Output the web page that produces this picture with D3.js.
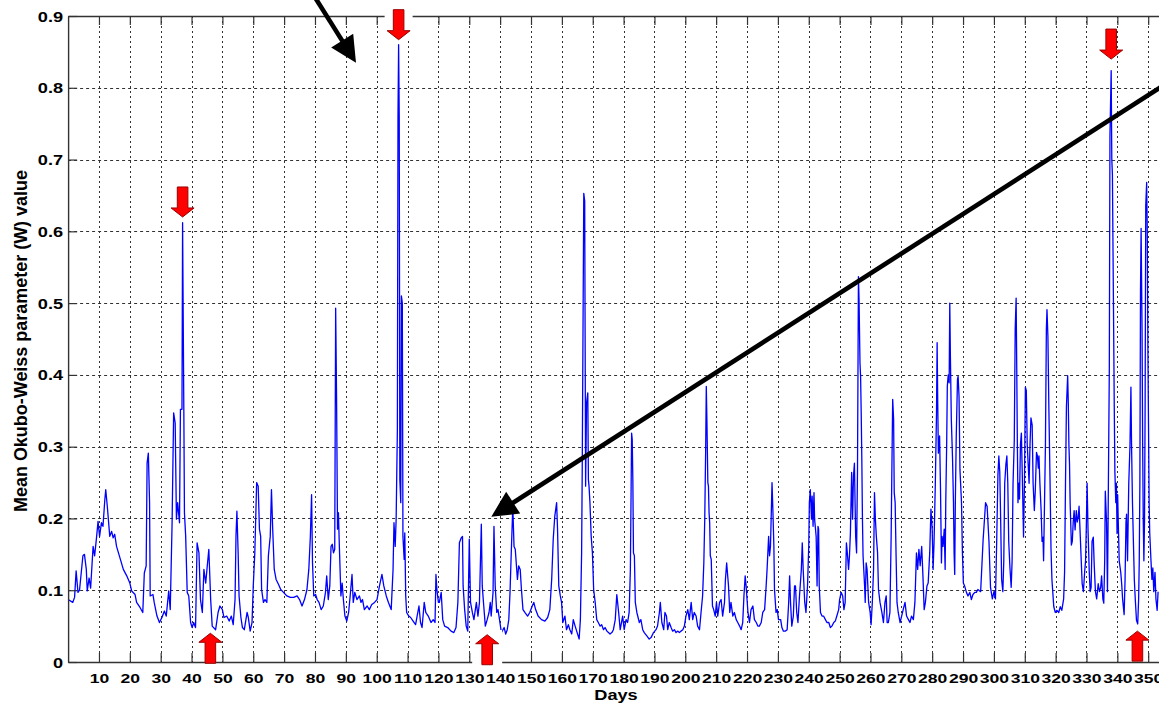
<!DOCTYPE html>
<html>
<head>
<meta charset="utf-8">
<script src="https://cdn.jsdelivr.net/npm/d3@7"></script>
<style>
  html, body { margin: 0; padding: 0; background: #fff; }
  svg { display: block; }
</style>
</head>
<body>
<svg id="chart" width="1159" height="708"></svg>
<script>
// Mean Okubo-Weiss parameter (W), sampled through the year: [day, W]
const owDays000to060 = [
  [0,0.087],[1.5,0.083],[2.1,0.090],[2.6,0.127],[3.2,0.097],[3.7,0.100],[4.8,0.148],[5.3,0.150],[5.9,0.129],[6.2,0.099],
  [6.8,0.117],[7.3,0.103],[8.1,0.161],[8.6,0.148],[9.2,0.173],[9.7,0.196],[10.2,0.175],[10.8,0.194],[11.3,0.189],[11.9,0.226],
  [12.2,0.240],[12.7,0.217],[13.5,0.175],[14.1,0.182],[14.6,0.173],[15.1,0.178],[15.7,0.161],[16.8,0.145],[17.9,0.129],[19.0,0.120],
  [20.0,0.110],[20.6,0.099],[21.7,0.094],[22.2,0.083],[23.3,0.076],[24.2,0.069],[24.7,0.124],[25.3,0.134],[25.6,0.277],[26.0,0.291],
  [26.4,0.222],[26.6,0.092],[27.5,0.094],[27.9,0.083],[28.8,0.064],[29.6,0.055],[30.4,0.062],[31.2,0.071],[31.8,0.064],[32.6,0.099],
  [33.1,0.073],[33.7,0.194],[34.2,0.347],[34.7,0.333],[35.1,0.199],[35.5,0.222],[36.1,0.194],[36.4,0.352],[36.9,0.352],[37.1,0.612],
  [37.5,0.352],[37.7,0.208],[38.1,0.175],[38.6,0.097],[39.1,0.092],[39.7,0.055],[40.2,0.048],[40.7,0.055],[41.3,0.048],[41.8,0.166],
  [42.4,0.152],[42.9,0.087],[43.5,0.069],[44.0,0.129],[44.6,0.110],[45.1,0.134],[45.6,0.157],[46.2,0.087],[46.7,0.050],[47.8,0.045],
  [48.6,0.069],[49.2,0.078],[50.0,0.073],[50.5,0.062],[51.4,0.064],[52.2,0.057],[52.9,0.064],[53.5,0.052],[54.1,0.087],[54.4,0.175],
  [54.7,0.210],[55.1,0.152],[55.4,0.092],[56.0,0.062],[56.5,0.048],[57.1,0.045],[58.0,0.069],[58.4,0.062],[59.0,0.043],[59.6,0.055]
];
const owDays060to120 = [
  [60.0,0.106],[60.5,0.152],[61.1,0.250],[61.6,0.245],[62.0,0.185],[62.4,0.175],[62.7,0.101],[63.3,0.083],[63.8,0.087],[64.4,0.083],
  [64.9,0.148],[65.5,0.175],[65.9,0.240],[66.3,0.185],[66.8,0.129],[67.4,0.115],[68.2,0.108],[68.9,0.101],[69.8,0.097],[70.9,0.092],
  [72.0,0.090],[73.1,0.090],[74.2,0.092],[75.0,0.087],[75.8,0.078],[76.6,0.087],[77.4,0.101],[78.0,0.129],[78.5,0.175],[78.9,0.233],
  [79.2,0.138],[79.6,0.092],[80.2,0.094],[80.7,0.087],[81.3,0.083],[82.0,0.073],[82.7,0.078],[83.4,0.097],[83.8,0.120],[84.3,0.087],
  [84.8,0.106],[85.2,0.161],[85.6,0.164],[86.0,0.152],[86.4,0.157],[86.7,0.493],[87.0,0.366],[87.3,0.185],[87.6,0.208],[87.9,0.161],
  [88.4,0.092],[88.8,0.110],[89.2,0.087],[89.7,0.064],[90.3,0.057],[90.9,0.069],[91.4,0.092],[92.0,0.122],[92.4,0.083],[92.9,0.097],
  [93.6,0.087],[94.4,0.092],[94.9,0.083],[95.4,0.087],[96.0,0.073],[96.9,0.078],[97.6,0.073],[98.4,0.080],[99.3,0.083],[100.1,0.087],
  [100.9,0.106],[101.7,0.122],[102.3,0.106],[103.1,0.092],[103.8,0.083],[104.7,0.073],[105.3,0.129],[105.6,0.194],[106.0,0.161],[106.3,0.199],
  [106.7,0.324],[106.9,0.760],[107.1,0.860],[107.3,0.760],[107.5,0.254],[107.8,0.222],[108.0,0.510],[108.3,0.500],[108.5,0.175],[108.9,0.143],
  [109.1,0.180],[109.4,0.092],[109.7,0.069],[110.4,0.064],[111.0,0.062],[111.8,0.057],[112.6,0.052],[113.1,0.064],[113.7,0.078],[114.2,0.055],
  [114.7,0.048],[115.4,0.083],[115.9,0.069],[116.7,0.064],[117.6,0.055],[118.3,0.059],[118.9,0.055],[119.2,0.122],[119.5,0.101],[120.0,0.083]
];
const owDays120to180 = [
  [120.3,0.083],[120.9,0.097],[121.4,0.059],[122.0,0.050],[123.0,0.048],[124.1,0.043],[125.0,0.041],[125.7,0.048],[126.3,0.083],[126.8,0.166],
  [127.4,0.173],[127.8,0.175],[128.0,0.106],[128.5,0.073],[129.0,0.050],[129.5,0.043],[130.0,0.171],[130.4,0.083],[131.0,0.069],[131.5,0.059],
  [132.3,0.083],[132.8,0.064],[133.3,0.083],[133.9,0.192],[134.2,0.106],[134.6,0.083],[135.2,0.050],[135.8,0.059],[136.4,0.069],[136.8,0.083],
  [137.1,0.064],[137.7,0.097],[138.0,0.189],[138.4,0.106],[138.9,0.069],[139.3,0.073],[139.8,0.059],[140.4,0.041],[141.3,0.048],[141.8,0.039],
  [142.3,0.045],[142.8,0.059],[143.2,0.097],[143.6,0.152],[144.1,0.217],[144.5,0.161],[144.9,0.157],[145.6,0.115],[146.0,0.134],[146.5,0.129],
  [146.9,0.101],[147.4,0.073],[148.0,0.069],[148.9,0.064],[149.6,0.069],[150.4,0.078],[150.9,0.083],[151.5,0.073],[152.3,0.064],[153.4,0.059],
  [154.5,0.057],[155.4,0.062],[156.1,0.073],[156.7,0.115],[157.2,0.171],[157.7,0.203],[158.3,0.222],[158.6,0.185],[159.0,0.106],[159.5,0.092],
  [159.9,0.083],[160.3,0.055],[161.0,0.064],[161.5,0.045],[162.1,0.052],[162.6,0.045],[163.2,0.039],[163.7,0.059],[164.3,0.050],[164.8,0.043],
  [165.6,0.032],[166.0,0.059],[166.4,0.152],[166.6,0.268],[166.9,0.500],[167.1,0.653],[167.4,0.642],[167.5,0.500],[167.7,0.245],[168.0,0.361],
  [168.4,0.375],[168.6,0.254],[168.8,0.245],[169.1,0.222],[169.5,0.175],[169.9,0.152],[170.3,0.101],[170.8,0.083],[171.3,0.059],[171.8,0.055],
  [172.4,0.050],[172.9,0.052],[173.5,0.045],[174.0,0.048],[174.6,0.043],[175.1,0.041],[175.6,0.039],[176.2,0.041],[176.7,0.045],[177.3,0.059],
  [177.8,0.094],[178.4,0.069],[178.9,0.045]
];
const owDays180to238 = [
  [179.7,0.064],[180.2,0.045],[180.8,0.059],[181.3,0.055],[181.8,0.069],[182.2,0.129],[182.4,0.222],[182.6,0.319],[182.8,0.310],[183.0,0.254],
  [183.2,0.152],[183.5,0.148],[183.8,0.083],[184.3,0.069],[185.1,0.055],[185.6,0.059],[186.2,0.045],[186.7,0.041],[187.6,0.036],[188.3,0.032],
  [188.9,0.034],[189.7,0.041],[190.5,0.045],[191.0,0.050],[191.6,0.069],[191.9,0.083],[192.4,0.055],[193.0,0.045],[193.4,0.069],[193.9,0.064],
  [194.3,0.045],[194.8,0.055],[195.4,0.048],[195.9,0.043],[196.5,0.045],[197.0,0.041],[197.5,0.043],[198.1,0.041],[198.6,0.043],[199.2,0.045],
  [199.7,0.050],[200.2,0.064],[200.8,0.073],[201.3,0.059],[201.9,0.083],[202.4,0.059],[202.9,0.069],[203.5,0.064],[204.0,0.050],[204.6,0.045],
  [205.1,0.069],[205.6,0.092],[206.0,0.138],[206.3,0.199],[206.6,0.296],[206.8,0.384],[207.0,0.338],[207.3,0.250],[207.5,0.245],[207.7,0.208],
  [207.9,0.194],[208.1,0.148],[208.4,0.143],[208.8,0.078],[209.2,0.073],[209.7,0.064],[210.1,0.083],[210.5,0.064],[211.1,0.083],[211.6,0.087],
  [212.1,0.064],[212.7,0.083],[213.0,0.115],[213.4,0.138],[214.0,0.106],[214.4,0.069],[214.8,0.083],[215.4,0.064],[215.9,0.069],[216.5,0.059],
  [217.0,0.055],[217.6,0.050],[218.1,0.045],[218.6,0.055],[219.0,0.092],[219.4,0.120],[219.7,0.106],[220.3,0.069],[220.8,0.055],[221.3,0.073],
  [221.9,0.078],[222.4,0.059],[223.0,0.055],[223.5,0.050],[224.0,0.050],[224.6,0.055],[225.1,0.069],[225.7,0.073],[226.2,0.106],[226.5,0.129],
  [227.0,0.175],[227.3,0.148],[227.6,0.161],[228.1,0.250],[228.4,0.208],[228.7,0.161],[228.9,0.101],[229.4,0.069],[229.8,0.073],[230.2,0.059],
  [230.9,0.059],[231.3,0.048],[231.8,0.043],[232.4,0.043],[233.0,0.045],[233.5,0.083],[233.8,0.120],[234.1,0.083],[234.5,0.050],[235.0,0.064],
  [235.4,0.106],[235.7,0.106],[236.1,0.069],[236.5,0.055],[237.0,0.092],[237.6,0.129],[237.9,0.166]
];
const owDays238to296 = [
  [238.2,0.129],[238.7,0.083],[239.1,0.069],[239.6,0.106],[240.0,0.161],[240.2,0.222],[240.5,0.240],[240.9,0.199],[241.1,0.231],[241.4,0.189],
  [241.7,0.236],[241.9,0.199],[242.4,0.175],[242.7,0.106],[243.0,0.189],[243.2,0.185],[243.4,0.106],[243.8,0.069],[244.3,0.064],[244.8,0.064],
  [245.4,0.059],[245.9,0.055],[246.5,0.055],[247.0,0.048],[247.5,0.050],[248.1,0.055],[248.6,0.057],[249.1,0.064],[249.7,0.073],[250.0,0.087],
  [250.5,0.097],[251.0,0.092],[251.4,0.073],[251.8,0.083],[252.2,0.166],[252.5,0.152],[252.9,0.129],[253.2,0.148],[253.5,0.180],[253.9,0.264],
  [254.2,0.199],[254.5,0.259],[254.8,0.277],[255.2,0.175],[255.5,0.152],[255.8,0.268],[256.1,0.537],[256.3,0.505],[256.6,0.417],[256.8,0.398],
  [257.0,0.347],[257.2,0.282],[257.4,0.199],[257.6,0.148],[258.1,0.106],[258.3,0.083],[258.6,0.138],[258.9,0.129],[259.4,0.083],[259.9,0.069],
  [260.2,0.052],[260.6,0.083],[261.0,0.129],[261.3,0.236],[261.6,0.199],[261.9,0.175],[262.3,0.152],[262.6,0.101],[263.1,0.083],[263.7,0.069],
  [264.2,0.055],[264.7,0.083],[265.1,0.092],[265.4,0.055],[265.8,0.055],[266.3,0.069],[266.7,0.175],[266.9,0.254],[267.2,0.366],[267.5,0.338],
  [267.7,0.236],[268.0,0.222],[268.3,0.148],[268.6,0.083],[269.0,0.069],[269.6,0.055],[270.1,0.064],[270.6,0.073],[271.2,0.083],[271.7,0.064],
  [272.3,0.059],[272.8,0.055],[273.3,0.064],[273.9,0.059],[274.4,0.083],[274.9,0.152],[275.3,0.129],[275.7,0.157],[276.1,0.134],[276.6,0.161],
  [277.0,0.120],[277.4,0.073],[277.8,0.083],[278.3,0.106],[278.7,0.110],[279.2,0.152],[279.6,0.213],[280.0,0.185],[280.3,0.129],[280.6,0.166],
  [281.0,0.245],[281.4,0.347],[281.6,0.445],[281.8,0.361],[282.0,0.291],[282.4,0.315],[282.7,0.240],[283.0,0.138],[283.2,0.175],[283.5,0.161],
  [283.9,0.185],[284.2,0.129],[284.4,0.222],[284.7,0.305],[284.9,0.384],[285.2,0.400],[285.5,0.389],[285.7,0.500],[285.9,0.426],[286.2,0.338],
  [286.6,0.282],[286.9,0.222],[287.1,0.152],[287.3,0.122],[287.5,0.222],[287.8,0.315],[288.2,0.394],[288.4,0.398],[288.7,0.370],[289.0,0.268],
  [289.5,0.222],[289.8,0.152],[290.1,0.110],[290.5,0.106],[291.1,0.097],[291.6,0.092],[292.2,0.097],[292.7,0.087],[293.2,0.094],[293.8,0.097],
  [294.3,0.097],[294.8,0.101],[295.7,0.098],[296.5,0.170]
];
const owDays296to354 = [
  [297.3,0.222],[297.8,0.217],[298.4,0.168],[298.9,0.104],[299.5,0.088],[300.0,0.098],[300.5,0.088],[300.9,0.168],[301.3,0.260],[301.6,0.287],
  [301.9,0.265],[302.2,0.195],[302.5,0.115],[302.9,0.098],[303.2,0.141],[303.5,0.249],[303.9,0.276],[304.2,0.287],[304.5,0.249],[304.8,0.168],
  [305.2,0.131],[305.6,0.104],[305.9,0.141],[306.2,0.249],[306.6,0.308],[306.9,0.464],[307.2,0.507],[307.4,0.410],[307.6,0.303],[307.8,0.222],
  [308.1,0.249],[308.3,0.227],[308.6,0.303],[308.9,0.319],[309.2,0.260],[309.6,0.174],[309.9,0.249],[310.2,0.383],[310.5,0.378],[310.8,0.303],
  [311.1,0.276],[311.4,0.249],[311.7,0.303],[312.0,0.340],[312.4,0.330],[312.7,0.249],[313.1,0.211],[313.4,0.238],[313.8,0.292],[314.1,0.287],
  [314.4,0.270],[314.6,0.287],[314.9,0.249],[315.3,0.211],[315.6,0.168],[315.9,0.174],[316.1,0.141],[316.3,0.195],[316.7,0.303],[317.0,0.464],
  [317.2,0.491],[317.5,0.453],[317.8,0.356],[318.2,0.249],[318.5,0.158],[318.8,0.115],[319.4,0.077],[319.9,0.069],[320.4,0.072],[321.0,0.069],
  [321.5,0.077],[322.0,0.072],[322.6,0.088],[322.9,0.125],[323.2,0.249],[323.5,0.356],[323.9,0.399],[324.1,0.362],[324.3,0.303],[324.5,0.276],
  [324.7,0.222],[325.1,0.163],[325.4,0.168],[325.7,0.195],[326.0,0.211],[326.3,0.184],[326.7,0.211],[327.0,0.195],[327.3,0.201],[327.6,0.217],
  [328.0,0.174],[328.3,0.141],[328.6,0.109],[329.0,0.098],[329.4,0.125],[329.7,0.141],[329.9,0.179],[330.2,0.249],[330.5,0.184],[330.9,0.125],
  [331.2,0.098],[331.5,0.104],[331.8,0.168],[332.2,0.174],[332.5,0.136],[332.9,0.098],[333.3,0.088],[333.8,0.109],[334.2,0.098],[334.6,0.104],
  [334.9,0.120],[335.3,0.088],[335.6,0.082],[335.9,0.141],[336.1,0.238],[336.5,0.195],[336.8,0.098],[337.1,0.249],[337.4,0.410],[337.6,0.733],
  [338.0,0.824],[338.2,0.701],[338.4,0.679],[338.6,0.572],[338.8,0.464],[339.0,0.356],[339.2,0.265],[339.5,0.222],[339.7,0.249],[339.9,0.179],
  [340.1,0.233],[340.3,0.195],[340.6,0.141],[341.1,0.125],[341.4,0.109],[341.7,0.088],[342.2,0.066],[342.5,0.115],[342.8,0.195],[343.0,0.206],
  [343.3,0.141],[343.7,0.249],[344.1,0.303],[344.4,0.383],[344.6,0.303],[344.9,0.222],[345.2,0.168],[345.5,0.115],[345.8,0.088],[346.2,0.058],
  [346.6,0.053],[346.9,0.088],[347.1,0.141],[347.3,0.249],[347.5,0.518],[347.7,0.604],[348.0,0.464],[348.2,0.303],[348.4,0.195],[348.6,0.141],
  [348.8,0.195],[349.0,0.356],[349.2,0.636],[349.5,0.668],[349.7,0.598],[349.9,0.437],[350.1,0.330],[350.3,0.222],[350.5,0.179],[350.9,0.141],
  [351.2,0.115],[351.5,0.131],[351.8,0.098],[352.2,0.125],[352.5,0.088],[352.9,0.072],[353.2,0.098]
];

// Axis ticks
const xTickValues = [10,20,30,40,50,60,70,80,90,100,110,120,130,140,150,160,170,180,190,200,
                     210,220,230,240,250,260,270,280,290,300,310,320,330,340,350];
const yTickValues = [0,0.1,0.2,0.3,0.4,0.5,0.6,0.7,0.8,0.9];

// Highlighted events: [day, W level of arrow tip]
const peakMarkers   = [[37.1,0.620],[107.1,0.867],[338.0,0.840]];
const troughMarkers = [[46.1,0.040],[135.8,0.038],[346.5,0.043]];

const series = [].concat(owDays000to060, owDays060to120, owDays120to180,
                         owDays180to238, owDays238to296, owDays296to354);

const svg = d3.select('#chart');
const FONT = '"Liberation Sans", Arial, Helvetica, sans-serif';
const STRETCH = 'scale(1.3,1)';

const x = d3.scaleLinear().domain([0, 365]).range([68.1, 1194.5]);
const y = d3.scaleLinear().domain([0, 0.9]).range([662, 16]);
const [x0, x1] = x.range();
const [yb, yt] = y.range();

// Dotted grid
const grid = svg.append('g').attr('stroke', '#000').attr('stroke-width', 1).attr('opacity', 0.8);
grid.selectAll('line.vg').data(xTickValues).join('line')
  .attr('class', 'vg')
  .attr('x1', d => Math.round(x(d)) + 0.5).attr('x2', d => Math.round(x(d)) + 0.5)
  .attr('y1', yt).attr('y2', yb)
  .attr('stroke-dasharray', '2,3');
grid.selectAll('line.hg').data(yTickValues.filter(v => v > 0 && v < 0.9)).join('line')
  .attr('class', 'hg')
  .attr('x1', x0).attr('x2', x1)
  .attr('y1', d => Math.round(y(d)) + 0.5).attr('y2', d => Math.round(y(d)) + 0.5)
  .attr('stroke-dasharray', '3,3');

// Data line
const line = d3.line().x(d => x(d[0])).y(d => y(d[1]));
svg.append('path')
  .datum(series)
  .attr('d', line)
  .attr('fill', 'none')
  .attr('stroke', '#0000ff')
  .attr('stroke-width', 1.3)
  .attr('stroke-linejoin', 'round');

// Axes (ticks point inward)
const axisColor = '#333';
const gx = svg.append('g').attr('transform', `translate(0,${yb})`)
  .call(d3.axisBottom(x).tickValues(xTickValues).tickSizeInner(-9).tickSizeOuter(0).tickFormat(d3.format('d')));
const gt = svg.append('g').attr('transform', `translate(0,${yt})`)
  .call(d3.axisTop(x).tickValues(xTickValues).tickSizeInner(-9).tickSizeOuter(0).tickFormat(''));
const gy = svg.append('g').attr('transform', `translate(${x0},0)`)
  .call(d3.axisLeft(y).tickValues(yTickValues).tickSizeInner(-9).tickSizeOuter(0)
    .tickFormat(d => d === 0 ? '0' : d.toFixed(1)));

[gx, gt, gy].forEach(g => {
  g.select('.domain').attr('stroke', axisColor).attr('stroke-width', 1.4);
  g.selectAll('.tick line').attr('stroke', axisColor).attr('stroke-width', 1.2);
});

gx.selectAll('.tick text')
  .attr('y', 21).attr('dy', 0)
  .attr('transform', STRETCH)
  .attr('fill', '#000')
  .style('font', `bold 13.5px ${FONT}`);

gy.selectAll('.tick text')
  .attr('x', 0).attr('dy', '0.36em')
  .attr('text-anchor', 'end')
  .attr('transform', `translate(-5,0) ${STRETCH}`)
  .attr('fill', '#000')
  .style('font', `bold 14px ${FONT}`);

// Axis titles
svg.append('text')
  .attr('transform', `translate(616,700) ${STRETCH}`)
  .attr('text-anchor', 'middle')
  .attr('fill', '#000')
  .style('font', `bold 14px ${FONT}`)
  .text('Days');

svg.append('text')
  .attr('transform', `translate(27,341) scale(1.3,1) rotate(-90)`)
  .attr('text-anchor', 'middle')
  .attr('fill', '#000')
  .attr('textLength', 342)
  .attr('lengthAdjust', 'spacingAndGlyphs')
  .style('font', `bold 14px ${FONT}`)
  .text('Mean Okubo-Weiss parameter (W) value');

// Block arrows marking events
function blockArrow(cx, tipY, dir) {
  // dir = +1 points down, -1 points up
  const L = 30, H = 9, sw = 5.3, hw = 11.5;
  const pts = [
    [cx - sw, tipY - dir * L], [cx + sw, tipY - dir * L], [cx + sw, tipY - dir * H],
    [cx + hw, tipY - dir * H], [cx, tipY], [cx - hw, tipY - dir * H], [cx - sw, tipY - dir * H]
  ];
  return 'M' + pts.map(p => p.join(',')).join('L') + 'Z';
}

const marks = svg.append('g');
// white backing where arrows sit on the frame
marks.append('rect').attr('x', x(107.1) - 14).attr('y', 5).attr('width', 28).attr('height', 34).attr('fill', '#fff');
marks.append('rect').attr('x', x(135.8) - 15).attr('y', 630).attr('width', 30).attr('height', 36).attr('fill', '#fff');

marks.selectAll('path.down').data(peakMarkers).join('path')
  .attr('class', 'down')
  .attr('d', d => blockArrow(x(d[0]), y(d[1]), 1))
  .attr('fill', '#ff0000').attr('stroke', '#9a0000').attr('stroke-width', 1);
marks.selectAll('path.up').data(troughMarkers).join('path')
  .attr('class', 'up')
  .attr('d', d => blockArrow(x(d[0]), y(d[1]), -1))
  .attr('fill', '#ff0000').attr('stroke', '#9a0000').attr('stroke-width', 1);

// Black pointer arrows
function pointer(g, fromX, fromY, tipX, tipY) {
  const dx = tipX - fromX, dy = tipY - fromY, len = Math.hypot(dx, dy);
  const ux = dx / len, uy = dy / len, head = 26, half = 13;
  const bx = tipX - ux * head, by = tipY - uy * head;
  g.append('line')
    .attr('x1', fromX).attr('y1', fromY).attr('x2', bx + ux * 2).attr('y2', by + uy * 2)
    .attr('stroke', '#000').attr('stroke-width', 4.6);
  g.append('path')
    .attr('d', `M${tipX},${tipY}L${bx - uy * half},${by + ux * half}L${bx + uy * half},${by - ux * half}Z`)
    .attr('fill', '#000');
}
const pointers = svg.append('g');
pointer(pointers, 306, -17, 356, 62.7);
pointer(pointers, 1200, 62, 491.3, 516.7);
</script>
</body>
</html>
